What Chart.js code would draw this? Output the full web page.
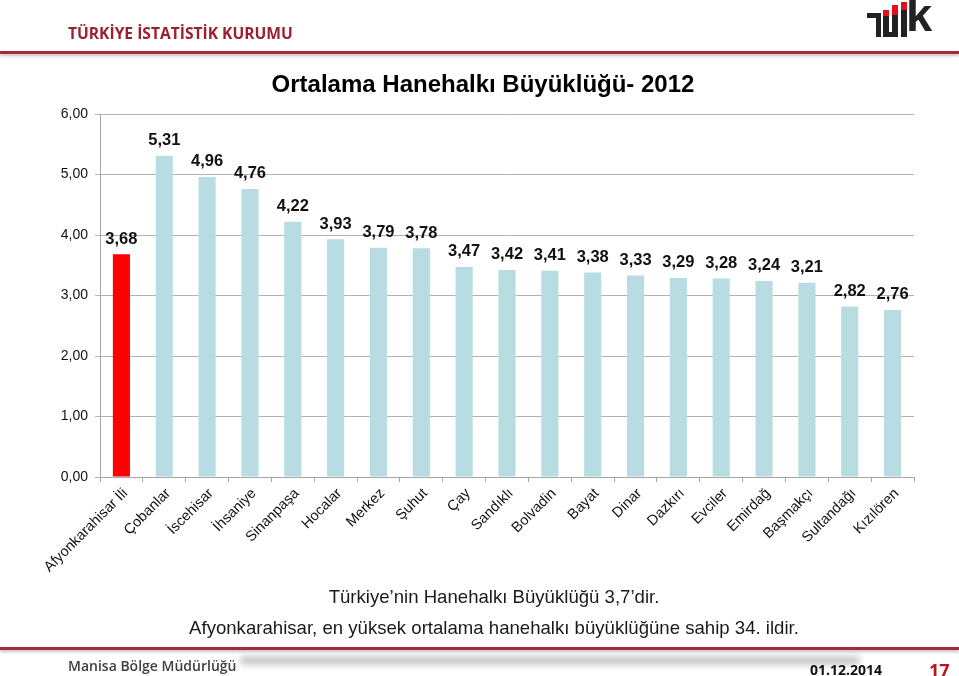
<!DOCTYPE html>
<html>
<head>
<meta charset="utf-8">
<script src="https://cdn.jsdelivr.net/npm/chart.js@4.4.1/dist/chart.umd.min.js"></script>
<style>
  body { margin: 0; background: #fff; }
  #page { position: relative; width: 959px; height: 676px; overflow: hidden; font-family: "Liberation Sans", Arial, sans-serif; }
  #chartBox { position: absolute; left: 0; top: 0; width: 959px; height: 676px; }
  .abs { position: absolute; white-space: nowrap; }
  .rule { position: absolute; left: 0; width: 959px; height: 3px; background: #a52a3a; box-shadow: 0 2px 3px rgba(0,0,0,0.25); }
  .blk { position: absolute; background: #222; }
  .red { position: absolute; background: #e3101c; }
</style>
</head>
<body>
<div id="page">
  <div id="chartBox"><canvas id="hhChart"></canvas></div>

  <div class="abs" style="left:68px; top:22px; font-family:'Open Sans'; font-weight:700; font-size:15.6px; color:#9c1f2e;">TÜRKİYE İSTATİSTİK KURUMU</div>
  <div class="rule" style="top:51px;"></div>

  <!-- logo -->
  <div class="blk" style="left:867px; top:13px; width:14px; height:5px;"></div>
  <div class="blk" style="left:876px; top:13px; width:5px; height:24px;"></div>
  <div class="blk" style="left:883px; top:16px; width:6px; height:21px;"></div>
  <div class="red" style="left:883px; top:10px; width:6px; height:6px;"></div>
  <div class="blk" style="left:892px; top:15px; width:6px; height:22px;"></div>
  <div class="red" style="left:892px; top:5px; width:6px; height:10px;"></div>
  <div class="blk" style="left:883px; top:32px; width:15px; height:5px;"></div>
  <div class="blk" style="left:901px; top:10px; width:6px; height:27px;"></div>
  <div class="red" style="left:901px; top:2px; width:6px; height:8px;"></div>
  <div class="abs" style="left:906px; top:-9px; font-family:'Liberation Sans'; font-weight:700; font-size:47px; color:#222; line-height:47px;">k</div>

  <div class="abs" style="left:0; width:966px; text-align:center; top:70px; font-weight:700; font-size:24px; color:#000;">Ortalama Hanehalkı Büyüklüğü- 2012</div>

  <div class="abs" style="left:0; width:988px; text-align:center; top:586px; font-size:18.6px; color:#1a1a1a;">Türkiye’nin Hanehalkı Büyüklüğü 3,7’dir.</div>
  <div class="abs" style="left:0; width:988px; text-align:center; top:617px; font-size:18.6px; color:#1a1a1a;">Afyonkarahisar, en yüksek ortalama hanehalkı büyüklüğüne sahip 34. ildir.</div>
  <div class="rule" style="top:647px;"></div>

  <div class="abs" style="left:240px; top:656px; width:620px; height:9px; background:#c8c8c8; filter:blur(3px); border-radius:4px;"></div>
  <div class="abs" style="left:68px; top:656px; font-family:'Open Sans'; font-weight:600; font-size:14px; color:#404040;">Manisa Bölge Müdürlüğü</div>
  <div class="abs" style="left:810px; top:660px; font-family:'Open Sans'; font-weight:700; font-size:14px; color:#111;">01.12.2014</div>
  <div class="abs" style="left:929px; top:658px; font-family:'Open Sans'; font-weight:700; font-size:18px; color:#c0121f;">17</div>
</div>

<script>
const districts = [
  "Afyonkarahisar İli", "Çobanlar", "İscehisar", "İhsaniye", "Sinanpaşa", "Hocalar",
  "Merkez", "Şuhut", "Çay", "Sandıklı", "Bolvadin", "Bayat", "Dinar", "Dazkırı",
  "Evciler", "Emirdağ", "Başmakçı", "Sultandağı", "Kızılören"
];
const householdSize = [
  3.68, 5.31, 4.96, 4.76, 4.22, 3.93, 3.79, 3.78, 3.47, 3.42,
  3.41, 3.38, 3.33, 3.29, 3.28, 3.24, 3.21, 2.82, 2.76
];
const yTicks = [0, 1, 2, 3, 4, 5, 6];

const fmt = (v) => v.toFixed(2).replace(".", ",");

// bar value labels drawn above each bar
const valueLabels = {
  id: "valueLabels",
  afterDatasetsDraw(chart) {
    const ctx = chart.ctx;
    const meta = chart.getDatasetMeta(0);
    ctx.save();
    ctx.font = "bold 16.5px 'Liberation Sans', Arial, sans-serif";
    ctx.fillStyle = "#111";
    ctx.textAlign = "center";
    ctx.textBaseline = "bottom";
    meta.data.forEach((bar, i) => {
      ctx.fillText(fmt(householdSize[i]), bar.x, bar.y - 7);
    });
    ctx.restore();
  },
};

const ctx = document.getElementById("hhChart").getContext("2d");
new Chart(ctx, {
  type: "bar",
  data: {
    labels: districts,
    datasets: [
      {
        data: householdSize,
        backgroundColor: householdSize.map((v, i) => (i === 0 ? "#ff0000" : "#b7dde2")),
        borderWidth: 0,
        categoryPercentage: 1,
        barPercentage: 0.4,
      },
    ],
  },
  options: {
    responsive: true,
    maintainAspectRatio: false,
    animation: false,
    layout: { padding: { top: 114, right: 45, left: 0, bottom: 0 } },
    plugins: { legend: { display: false }, tooltip: { enabled: false } },
    scales: {
      x: {
        afterFit: (scale) => { scale.height = 199; },
        grid: { drawOnChartArea: false, color: "#a6a6a6", tickLength: 5 },
        border: { color: "#a6a6a6" },
        ticks: {
          minRotation: 45,
          maxRotation: 45,
          autoSkip: false,
          labelOffset: 4,
          color: "#111",
          font: { family: "'Liberation Sans', Arial, sans-serif", size: 14.5 },
        },
      },
      y: {
        min: 0,
        max: 6,
        afterFit: (scale) => { scale.width = 100; },
        afterBuildTicks: (scale) => { scale.ticks = yTicks.map((v) => ({ value: v })); },
        grid: { color: "#b3b3b3", tickLength: 5 },
        border: { color: "#a6a6a6" },
        ticks: {
          padding: 7,
          color: "#111",
          callback: (v) => fmt(v),
          font: { family: "'Liberation Sans', Arial, sans-serif", size: 14 },
        },
      },
    },
  },
  plugins: [valueLabels],
});
</script>
</body>
</html>
